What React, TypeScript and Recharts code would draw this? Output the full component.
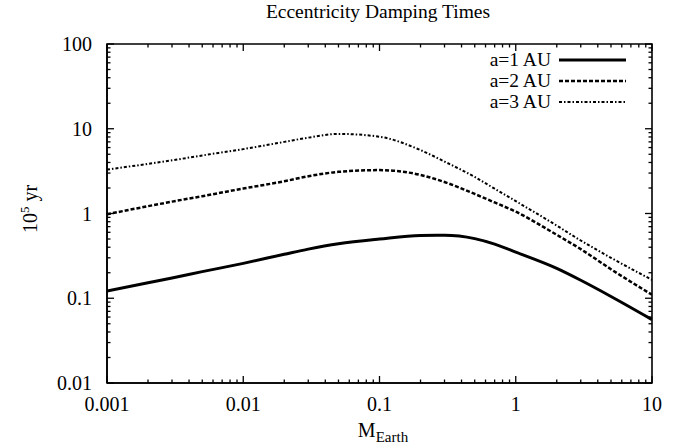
import React from 'react';
import { LineChart, Line, XAxis, YAxis, Legend, ReferenceArea } from 'recharts';

const MASS = [0.001, 0.002, 0.003, 0.005, 0.01, 0.02, 0.03, 0.05, 0.1, 0.2, 0.3, 0.5, 0.7, 1, 2, 3, 5, 10];
// damping time in 1e5 yr
const A1_AU = [0.122, 0.152, 0.173, 0.206, 0.258, 0.33, 0.38, 0.44, 0.5, 0.55, 0.553, 0.505, 0.435, 0.35, 0.225, 0.163, 0.105, 0.056];
const A2_AU = [0.98, 1.22, 1.38, 1.6, 1.97, 2.4, 2.75, 3.1, 3.25, 2.85, 2.35, 1.7, 1.35, 1.05, 0.56, 0.38, 0.22, 0.11];
const A3_AU = [3.3, 3.85, 4.24, 4.84, 5.75, 7.0, 7.85, 8.7, 8.05, 5.6, 4.1, 2.7, 1.96, 1.4, 0.72, 0.48, 0.3, 0.165];

const X_MAJOR = [0.001, 0.01, 0.1, 1, 10];
const Y_MAJOR = [0.01, 0.1, 1, 10, 100];
const MINOR_STEPS = [2, 3, 4, 5, 6, 7, 8, 9];

const minorsOf = (majors: number[]) =>
  majors.slice(0, -1).flatMap((m) => MINOR_STEPS.map((k) => m * k));

const X_TICKS = [...X_MAJOR, ...minorsOf(X_MAJOR)];
const Y_TICKS = [...Y_MAJOR, ...minorsOf(Y_MAJOR)];

const SERIES = [
  { key: 'a1', name: 'a=1 AU', width: 3, dash: undefined as string | undefined },
  { key: 'a2', name: 'a=2 AU', width: 2.5, dash: '4 2' },
  { key: 'a3', name: 'a=3 AU', width: 2, dash: '3 2 1.5 2' },
];

const data = MASS.map((m, i) => ({ m, a1: A1_AU[i], a2: A2_AU[i], a3: A3_AU[i] }));

const FONT = '"Liberation Serif", "Times New Roman", serif';
const W = 683;
const H = 445;
const MARGIN = { top: 44, right: 31, bottom: 0, left: 47 };
const Y_AXIS_W = 60;
const X_AXIS_H = 62;
// plot box size, used to mirror the ticks onto the top and right edges (gnuplot style)
const PLOT_W = W - MARGIN.left - MARGIN.right - Y_AXIS_W;
const PLOT_H = H - MARGIN.top - MARGIN.bottom - X_AXIS_H;
const MAJOR_LEN = 7;
const MINOR_LEN = 3.5;

const tickLine = { stroke: '#000', strokeWidth: 1.3 };

const BottomTick = (props: any) => {
  const { x, y, payload } = props;
  const major = X_MAJOR.includes(payload.value);
  const len = major ? MAJOR_LEN : MINOR_LEN;
  return (
    <g>
      <line x1={x} x2={x} y1={y} y2={y - len} {...tickLine} />
      <line x1={x} x2={x} y1={y - PLOT_H} y2={y - PLOT_H + len} {...tickLine} />
      {major && (
        <text x={x} y={y + 28} textAnchor="middle" fontFamily={FONT} fontSize={20} fill="#000">
          {payload.value}
        </text>
      )}
    </g>
  );
};

const LeftTick = (props: any) => {
  const { x, y, payload } = props;
  const major = Y_MAJOR.includes(payload.value);
  const len = major ? MAJOR_LEN : MINOR_LEN;
  return (
    <g>
      <line x1={x} x2={x + len} y1={y} y2={y} {...tickLine} />
      <line x1={x + PLOT_W} x2={x + PLOT_W - len} y1={y} y2={y} {...tickLine} />
      {major && (
        <text x={x - 15} y={y + 7} textAnchor="end" fontFamily={FONT} fontSize={20} fill="#000">
          {payload.value}
        </text>
      )}
    </g>
  );
};

const renderLegend = () => (
  <div style={{ fontFamily: FONT, fontSize: 19.5, lineHeight: '21px', color: '#000' }}>
    {SERIES.map((s) => (
      <div key={s.key} style={{ display: 'flex', alignItems: 'center', justifyContent: 'flex-end' }}>
        <span style={{ whiteSpace: 'nowrap' }}>{s.name}</span>
        <svg width={75} height={10} style={{ display: 'block' }}>
          <line x1={8} x2={75} y1={5} y2={5} stroke="#000" strokeWidth={s.width} strokeDasharray={s.dash} />
        </svg>
      </div>
    ))}
  </div>
);

const axisLine = { stroke: '#000', strokeWidth: 1.6 };

const textBox: React.CSSProperties = {
  position: 'absolute',
  fontFamily: FONT,
  fontSize: 20,
  lineHeight: '20px',
  height: 20,
  color: '#000',
  textAlign: 'center',
  whiteSpace: 'nowrap',
  pointerEvents: 'none',
};

const App: React.FC = () => {
  return (
    <div style={{ position: 'absolute', left: 0, top: 0, width: W, height: H, background: '#fff' }}>
      <LineChart width={W} height={H} data={data} margin={MARGIN}>
        <XAxis
          dataKey="m"
          type="number"
          scale="log"
          domain={[0.001, 10]}
          allowDataOverflow
          ticks={X_TICKS}
          interval={0}
          height={X_AXIS_H}
          tickLine={false}
          tickSize={0}
          tickMargin={0}
          axisLine={axisLine}
          tick={<BottomTick />}
        />
        <YAxis
          type="number"
          scale="log"
          domain={[0.01, 100]}
          allowDataOverflow
          ticks={Y_TICKS}
          interval={0}
          width={Y_AXIS_W}
          tickLine={false}
          tickSize={0}
          tickMargin={0}
          axisLine={axisLine}
          tick={<LeftTick />}
        />
        {/* plot frame */}
        <ReferenceArea
          x1={0.001}
          x2={10}
          y1={0.01}
          y2={100}
          fill="none"
          fillOpacity={0}
          stroke="#000"
          strokeWidth={1.6}
          ifOverflow="visible"
        />
        <Legend
          layout="vertical"
          align="center"
          verticalAlign="middle"
          content={renderLegend}
          wrapperStyle={{ top: 49, right: 57, left: 'auto', width: 'auto' }}
        />
        {SERIES.map((s) => (
          <Line
            key={s.key}
            dataKey={s.key}
            name={s.name}
            type="monotone"
            stroke="#000"
            strokeWidth={s.width}
            strokeDasharray={s.dash}
            dot={false}
            activeDot={false}
            isAnimationActive={false}
          />
        ))}
      </LineChart>
      <div style={{ ...textBox, left: 228, top: 2, width: 300, fontSize: 19.5 }}>Eccentricity Damping Times</div>
      <div style={{ ...textBox, left: -20, top: 199, width: 100, transform: 'rotate(-90deg)' }}>
        10<span style={{ position: 'relative', top: -8, fontSize: 13 }}>5</span> yr
      </div>
      <div style={{ ...textBox, left: 283, top: 420, width: 200 }}>
        M<span style={{ position: 'relative', top: 5, fontSize: 15 }}>Earth</span>
      </div>
    </div>
  );
};

export default App;
